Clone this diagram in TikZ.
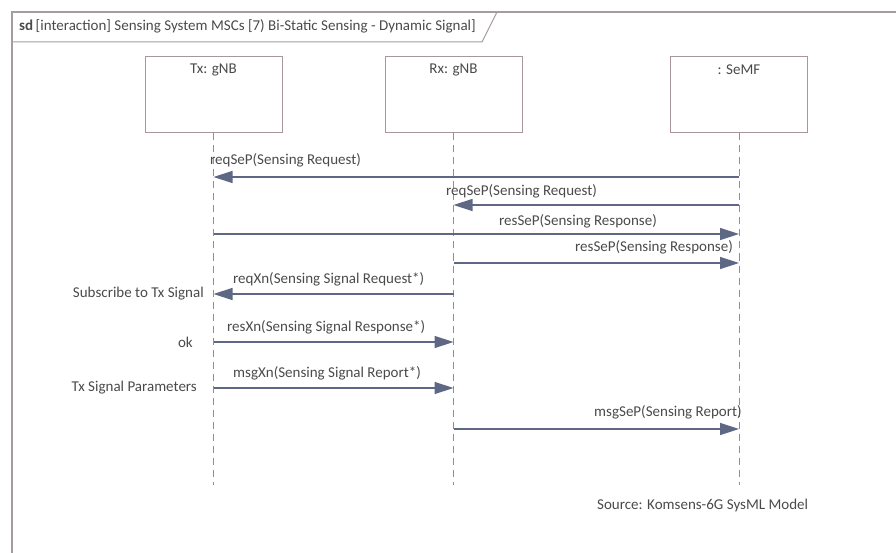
\documentclass[tikz,border=0pt]{standalone}
\usepackage{fontspec}
\setmainfont{Carlito}
\usetikzlibrary{arrows.meta}
\definecolor{framec}{HTML}{A69C9E}
\definecolor{boxc}{HTML}{A8969B}
\definecolor{lifec}{HTML}{9C8A8E}
\definecolor{msgc}{HTML}{5E6884}
\definecolor{txtc}{HTML}{4A4A4A}
\tikzset{
  lbox/.style={draw=boxc, line width=1pt, fill=white, minimum width=137pt, minimum height=76pt, inner sep=0pt},
  ltext/.style={text=txtc, font=\fontsize{15}{17}\selectfont, inner sep=0pt},
  life/.style={draw=lifec, line width=1pt, dash pattern=on 7pt off 5pt},
  msg/.style={draw=msgc, line width=1.4pt, -{Triangle[length=19pt,width=12pt]}},
  mtext/.style={text=txtc, font=\fontsize{15}{17}\selectfont, inner sep=0pt},
}
\begin{document}
\begin{tikzpicture}[x=1pt,y=-1pt]
\useasboundingbox (0,0) rectangle (896,553);
% frame
\draw[framec, line width=2.4pt] (12,553) -- (12,12) -- (896,12);
\draw[framec, line width=1pt] (12,42) -- (482,42) -- (497,12);
\node[ltext, anchor=west] (title) at (19,26) {\textbf{sd}\,[interaction] Sensing System MSCs [7) Bi-Static Sensing - Dynamic Signal]};
% lifelines
\node[lbox] (tx) at (213.5,95) {};
\node[lbox] (rx) at (453.5,95) {};
\node[lbox] (semf) at (739,95) {};
\node[ltext] (txl) at (213.5,70) {Tx: gNB};
\node[ltext] (rxl) at (453.5,70) {Rx: gNB};
\node[ltext] (semfl) at (739,70) {: SeMF};
\coordinate (txe) at (213.5,485);
\coordinate (rxe) at (453.5,485);
\coordinate (semfe) at (739,485);
\draw[life] (tx.south) -- (txe);
\draw[life] (rx.south) -- (rxe);
\draw[life] (semf.south) -- (semfe);
% messages
\draw[msg] (semf.south |- 0,177) coordinate (m1s) -- (tx.south |- 0,177) coordinate (m1e);
\node[mtext, anchor=west] (l1) at (210,160) {reqSeP(Sensing Request)};
\draw[msg] (semf.south |- 0,205) coordinate (m2s) -- (rx.south |- 0,205) coordinate (m2e);
\node[mtext, anchor=west] (l2) at (446,191) {reqSeP(Sensing Request)};
\draw[msg] (tx.south |- 0,234) coordinate (m3s) -- (semf.south |- 0,234) coordinate (m3e);
\node[mtext, anchor=west] (l3) at (499,221) {resSeP(Sensing Response)};
\draw[msg] (rx.south |- 0,263) coordinate (m4s) -- (semf.south |- 0,263) coordinate (m4e);
\node[mtext, anchor=east] (l4) at (733,247) {resSeP(Sensing Response)};
\draw[msg] (rx.south |- 0,294) coordinate (m5s) -- (tx.south |- 0,294) coordinate (m5e);
\node[mtext, anchor=west] (l5) at (233,279) {reqXn(Sensing Signal Request*)};
\node[mtext, anchor=east] (n5) at (204,294) {Subscribe to Tx Signal};
\draw[msg] (tx.south |- 0,342) coordinate (m6s) -- (rx.south |- 0,342) coordinate (m6e);
\node[mtext, anchor=west] (l6) at (227,327) {resXn(Sensing Signal Response*)};
\node[mtext, anchor=east] (n6) at (193,342) {ok};
\draw[msg] (tx.south |- 0,388) coordinate (m7s) -- (rx.south |- 0,388) coordinate (m7e);
\node[mtext, anchor=west] (l7) at (233,373) {msgXn(Sensing Signal Report*)};
\node[mtext, anchor=east] (n7) at (197,388) {Tx Signal Parameters};
\draw[msg] (rx.south |- 0,429) coordinate (m8s) -- (semf.south |- 0,429) coordinate (m8e);
\node[mtext, anchor=west] (l8) at (594,412) {msgSeP(Sensing Report)};
% source
\node[mtext, anchor=west] (src) at (597,505) {Source: Komsens-6G SysML Model};
\end{tikzpicture}
\end{document}
